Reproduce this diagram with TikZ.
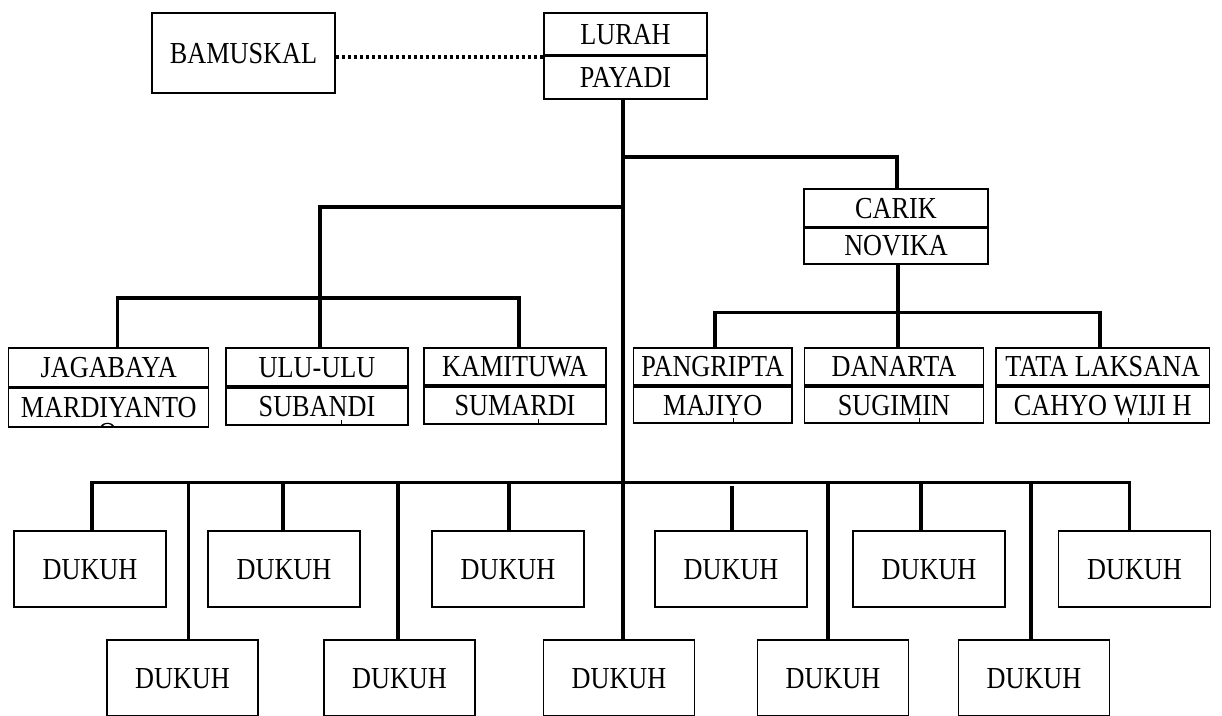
\documentclass[tikz,border=0pt]{standalone}
\usepackage{fontspec}
\setmainfont{Liberation Serif}[FakeStretch=0.86]
\begin{document}
\begin{tikzpicture}[x=1pt,y=-1pt,
  box/.style={draw, line width=1.5pt, inner sep=0pt, text height=20pt, text depth=0pt, font=\fontsize{30.5}{34}\selectfont},
  conn/.style={line width=3.8pt, line cap=rect, line join=miter},
  divider/.style={line width=3pt},
  tickmark/.style={line width=1pt},
  dotline/.style={line width=4pt, dash pattern=on 3pt off 3pt}]
\useasboundingbox (0,0) rectangle (1222,715);
\clip (0,0) rectangle (1222,715);

% top
\node[box, minimum width=183pt, minimum height=80pt] (bam) at (243.5,53) {BAMUSKAL};
\node[box, minimum width=163pt, minimum height=42pt] (lurah) at (625.5,34) {LURAH};
\node[box, minimum width=163pt, minimum height=44pt] (payadi) at (625.5,77) {PAYADI};
\draw[divider] (lurah.south west) -- (lurah.south east);
\coordinate (dl) at (544,56.5);
\draw[dotline] (bam.east |- dl) -- (dl);

% carik
\node[box, minimum width=184pt, minimum height=38pt] (carik) at (896,208) {CARIK};
\node[box, minimum width=184pt, minimum height=37pt] (novika) at (896,245.5) {NOVIKA};
\draw[divider] (carik.south west) -- (carik.south east);

% middle row left
\node[box, minimum width=200pt, minimum height=39pt] (jagabaya) at (108.7,367.5) {JAGABAYA};
\node[box, minimum width=200pt, minimum height=40pt] (mardiyanto) at (108.7,407) {MARDIYANTO};
\draw[divider] (jagabaya.south west) -- (jagabaya.south east);
\begin{scope}
  \clip (mardiyanto.north west) rectangle (mardiyanto.south east);
  \node[box, draw=none, anchor=north, text height=20pt] (oglyph) at (107.5,423) {O};
\end{scope}
\node[box, minimum width=182pt, minimum height=38pt] (ulu) at (317,367) {ULU-ULU};
\node[box, minimum width=182pt, minimum height=37pt] (subandi) at (317,406.5) {SUBANDI};
\node[box, minimum width=182pt, minimum height=37pt] (kamituwa) at (515,366.5) {KAMITUWA};
\node[box, minimum width=182pt, minimum height=37pt] (sumardi) at (515,405.5) {SUMARDI};

% middle row right
\node[box, minimum width=158.5pt, minimum height=37pt] (pangripta) at (712.75,366.5) {PANGRIPTA};
\node[box, minimum width=158.5pt, minimum height=36pt] (majiyo) at (712.75,405) {MAJIYO};
\node[box, minimum width=179pt, minimum height=37pt] (danarta) at (894,366.5) {DANARTA};
\node[box, minimum width=179pt, minimum height=36pt] (sugimin) at (894,405) {SUGIMIN};
\node[box, minimum width=213.6pt, minimum height=37pt] (tata) at (1102.8,366.5) {TATA LAKSANA};
\node[box, minimum width=213.6pt, minimum height=36pt] (cahyo) at (1102.8,405) {CAHYO WIJI H};

% small ticks at the bottom of the name boxes
\draw[tickmark] ([xshift=24pt]subandi.south) -- ++(0,-6);
\draw[tickmark] ([xshift=23pt]sumardi.south) -- ++(0,-6);
\draw[tickmark] ([xshift=21pt]majiyo.south) -- ++(0,-6);
\draw[tickmark] ([xshift=25pt]sugimin.south) -- ++(0,-6);
\draw[tickmark] ([xshift=25.7pt]cahyo.south) -- ++(0,-6);

% dukuh top row
\foreach \n/\cx in {d1/90, d2/284, d3/508, d4/731, d5/929, d6/1134.5}
  \node[box, minimum width=152pt, minimum height=76pt] (\n) at (\cx,569) {DUKUH};
% dukuh bottom row
\foreach \n/\cx in {b1/182.5, b2/399.5, b3/619, b4/833, b5/1034}
  \node[box, minimum width=151pt, minimum height=76pt] (\n) at (\cx,678) {DUKUH};

% connectors
\coordinate (xt) at (623,0);
\draw[conn] (payadi.south -| xt) -- (b3.north -| xt);

\coordinate (jc) at (623,157.3);
\coordinate (xc) at (897,0);
\draw[conn] (jc) -| (carik.north -| xc);

\coordinate (jl) at (623,206.7);
\coordinate (hl) at (320,298);
\coordinate (hla) at (117.4,298);
\coordinate (hlb) at (518.6,298);
\draw[conn] (jl) -| (hl);
\draw[conn] (hla) -- (hlb);
\draw[conn] (hla) -- (hla |- jagabaya.north);
\draw[conn] (hl) -- (hl |- ulu.north);
\draw[conn] (hlb) -- (hlb |- kamituwa.north);

\coordinate (cs) at (898.3,0);
\coordinate (hra) at (715,312.5);
\coordinate (hrm) at (898.3,312.5);
\coordinate (hrb) at (1100,312.5);
\draw[conn] (novika.south -| cs) -- (hrm);
\draw[conn] (hra) -- (hrb);
\draw[conn] (hra) -- (hra |- pangripta.north);
\draw[conn] (hrm) -- (hrm |- danarta.north);
\draw[conn] (hrb) -- (hrb |- tata.north);

\coordinate (ba) at (92,482.5);
\coordinate (bb) at (1129.5,482.5);
\draw[conn] (ba) -- (bb);
\foreach \x/\n in {92/d1, 283/d2, 509/d3, 921/d5, 1129.5/d6}{
  \coordinate (tp) at (\x,482.5);
  \draw[conn] (tp) -- (tp |- \n.north);
}
\coordinate (tp4) at (732,488);
\draw[conn] (tp4) -- (tp4 |- d4.north);
\foreach \x/\n in {188.5/b1, 398/b2, 828/b4, 1030.6/b5}{
  \coordinate (bp) at (\x,482.5);
  \draw[conn] (bp) -- (bp |- \n.north);
}
\end{tikzpicture}
\end{document}
